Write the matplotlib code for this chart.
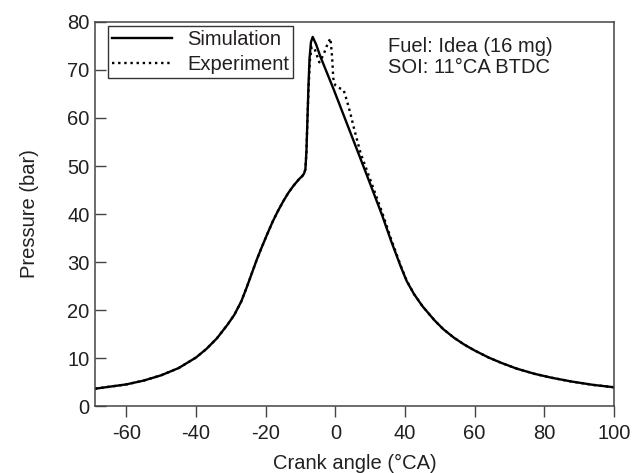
import matplotlib
matplotlib.use("Agg")
import matplotlib.pyplot as plt

# crank angle positions on the (evenly ticked) axis and pressure in bar
SIM_X = [-69, -65, -60, -55, -50, -45, -40, -37, -34, -31, -29, -27, -25.5,
         -24, -22.5, -21, -19.5, -18, -16.5, -15, -13.5, -12, -10.5, -9.5,
         -9.0, -8.6, -8.3, -8.0, -7.7, -7.4, -7.0, -6.5, -5.5, -4.3, -0.5,
         4.3, 9.2, 13.5, 16, 18.8, 20.5, 22.6, 25, 28.4, 31, 34.1, 37, 39.9,
         44, 47.6, 52, 57.2, 62, 67.8, 74, 80]
SIM_P = [3.6, 4.0, 4.5, 5.3, 6.4, 7.9, 10.1, 11.9, 14.1, 16.9, 19.0, 21.8,
         24.6, 27.6, 30.6, 33.3, 35.9, 38.4, 40.6, 42.6, 44.4, 45.9, 47.2,
         47.9, 48.4, 49.3, 53, 60, 67, 72.5, 75.8, 76.9, 75.3, 72.8, 66.0,
         57.0, 47.8, 39.6, 34.4, 29.0, 26.0, 23.3, 20.8, 17.9, 16.0, 14.2,
         12.8, 11.6, 10.1, 9.0, 7.8, 6.7, 5.9, 5.1, 4.4, 3.9]

EXP_X = [-69, -65, -60, -55, -50, -45, -40, -37, -34, -31, -29, -27, -25.5,
         -24, -22.5, -21, -19.5, -18, -16.5, -15, -13.5, -12, -10.5, -9.5,
         -9.0, -8.6, -8.3, -8.0, -7.7, -7.3, -6.8, -6.0, -4.6, -3.5, -2.2,
         -1.4, -0.9, -0.6, 0.0, 1.0, 2.4, 3.4, 4.3, 5.3, 7.2, 9.2, 11, 13.5,
         16, 18.8, 20.5, 22.6, 25, 28.4, 31, 34.1, 37, 39.9, 44, 47.6, 52,
         57.2, 62, 67.8, 74, 80]
EXP_P = [3.6, 4.0, 4.5, 5.3, 6.4, 7.9, 10.1, 11.9, 14.1, 16.9, 19.0, 21.8,
         24.6, 27.6, 30.6, 33.3, 35.9, 38.4, 40.6, 42.6, 44.4, 45.9, 47.2,
         47.9, 48.4, 49.3, 53, 60, 66, 72, 74.8, 74.5, 71.6, 73.0, 75.5,
         76.6, 72.4, 68.3, 66.8, 66.3, 65.8, 63.4, 61.0, 58.0, 52.8, 48.8,
         45.2, 40.2, 34.8, 29.2, 26.1, 23.3, 20.8, 17.9, 16.0, 14.2, 12.8,
         11.6, 10.1, 9.0, 7.8, 6.7, 5.9, 5.1, 4.4, 3.9]

X_TICKS = [-60, -40, -20, 0, 20, 40, 60, 80]
X_TICK_LABELS = ["-60", "-40", "-20", "0", "40", "60", "80", "100"]
Y_TICKS = [0, 10, 20, 30, 40, 50, 60, 70, 80]

TXT = "#231f20"
FS = 14.5

plt.rcParams["font.family"] = ["Liberation Sans", "DejaVu Sans"]

fig = plt.figure(figsize=(6.32, 4.73), dpi=100)
ax = fig.add_axes([95 / 632, 1 - 406 / 473, 519 / 632, 384 / 473])

ax.plot(SIM_X, SIM_P, color="black", lw=1.7, label="Simulation")
ax.plot(EXP_X, EXP_P, color="black", lw=1.7, linestyle=(0, (1, 1.6)),
        label="Experiment")

ax.set_xlim(-69, 80)
ax.set_ylim(0, 80)
ax.set_xticks(X_TICKS)
ax.set_xticklabels(X_TICK_LABELS)
ax.set_yticks(Y_TICKS)
ax.tick_params(axis="x", direction="out", length=8, width=1, colors="#444444",
               labelcolor=TXT, labelsize=FS, pad=5)
ax.tick_params(axis="y", direction="in", length=8, width=1, colors="#444444",
               labelcolor=TXT, labelsize=FS, pad=4)
for s in ax.spines.values():
    s.set_color("#444444")
    s.set_linewidth(1.1)

ax.set_xlabel("Crank angle (°CA)", fontsize=FS, color=TXT, labelpad=8)
ax.set_ylabel("Pressure (bar)", fontsize=FS, color=TXT, labelpad=20)

leg = ax.legend(loc="upper left", bbox_to_anchor=(0.0245, 0.99),
                borderaxespad=0, fontsize=FS, frameon=True, fancybox=False,
                handlelength=3.0, handletextpad=0.75, borderpad=0.2,
                labelspacing=0.3)
leg.get_frame().set_edgecolor("black")
leg.get_frame().set_linewidth(1.0)
for t in leg.get_texts():
    t.set_color(TXT)

ax.text(0.5645, 0.9227, "Fuel: Idea (16 mg)", transform=ax.transAxes,
        fontsize=FS, color=TXT, va="baseline", ha="left")
ax.text(0.5645, 0.867, "SOI: 11°CA BTDC", transform=ax.transAxes,
        fontsize=FS, color=TXT, va="baseline", ha="left")

fig.savefig("out.png", dpi=100)
